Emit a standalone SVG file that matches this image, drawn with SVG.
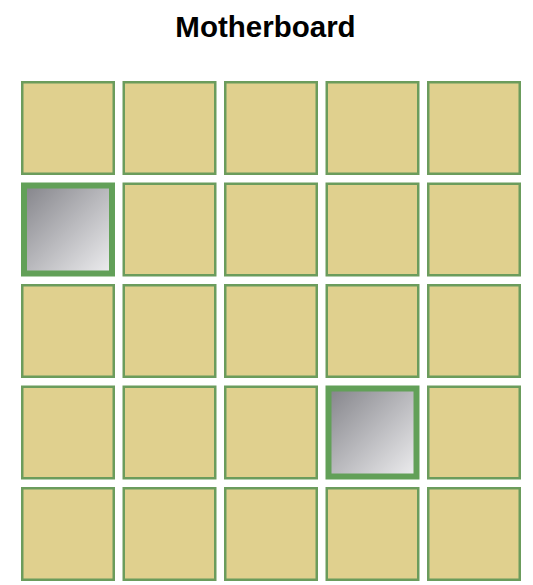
<svg xmlns="http://www.w3.org/2000/svg" width="533" height="585" viewBox="0 0 533 585">
  <style>
    .title { font-family: "Liberation Sans", Arial, sans-serif; font-weight: bold; font-size: 29.5px; fill: #000; }
    .cell { fill: #e0d08e; stroke: #6b9c5c; stroke-width: 2.5; }
    .sel { fill: url(#g); stroke: #62a058; stroke-width: 6; }
  </style>
  <defs>
    <linearGradient id="g" x1="0" y1="0" x2="1" y2="1">
      <stop offset="0" stop-color="#84848a"/>
      <stop offset="1" stop-color="#eeeef0"/>
    </linearGradient>
  </defs>
  <rect width="533" height="585" fill="#ffffff"/>
  <text class="title" x="265.5" y="37" text-anchor="middle">Motherboard</text>
  <g id="row0">
    <g id="c00"><rect class="cell" x="22.25" y="82.25" width="91.5" height="91.5"/></g>
    <g id="c01"><rect class="cell" x="123.75" y="82.25" width="91.5" height="91.5"/></g>
    <g id="c02"><rect class="cell" x="225.25" y="82.25" width="91.5" height="91.5"/></g>
    <g id="c03"><rect class="cell" x="326.75" y="82.25" width="91.5" height="91.5"/></g>
    <g id="c04"><rect class="cell" x="428.25" y="82.25" width="91.5" height="91.5"/></g>
  </g>
  <g id="row1">
    <g id="c10"><rect class="sel" x="24" y="185.5" width="88" height="88"/></g>
    <g id="c11"><rect class="cell" x="123.75" y="183.75" width="91.5" height="91.5"/></g>
    <g id="c12"><rect class="cell" x="225.25" y="183.75" width="91.5" height="91.5"/></g>
    <g id="c13"><rect class="cell" x="326.75" y="183.75" width="91.5" height="91.5"/></g>
    <g id="c14"><rect class="cell" x="428.25" y="183.75" width="91.5" height="91.5"/></g>
  </g>
  <g id="row2">
    <g id="c20"><rect class="cell" x="22.25" y="285.25" width="91.5" height="91.5"/></g>
    <g id="c21"><rect class="cell" x="123.75" y="285.25" width="91.5" height="91.5"/></g>
    <g id="c22"><rect class="cell" x="225.25" y="285.25" width="91.5" height="91.5"/></g>
    <g id="c23"><rect class="cell" x="326.75" y="285.25" width="91.5" height="91.5"/></g>
    <g id="c24"><rect class="cell" x="428.25" y="285.25" width="91.5" height="91.5"/></g>
  </g>
  <g id="row3">
    <g id="c30"><rect class="cell" x="22.25" y="386.75" width="91.5" height="91.5"/></g>
    <g id="c31"><rect class="cell" x="123.75" y="386.75" width="91.5" height="91.5"/></g>
    <g id="c32"><rect class="cell" x="225.25" y="386.75" width="91.5" height="91.5"/></g>
    <g id="c33"><rect class="sel" x="328.5" y="388.5" width="88" height="88"/></g>
    <g id="c34"><rect class="cell" x="428.25" y="386.75" width="91.5" height="91.5"/></g>
  </g>
  <g id="row4">
    <g id="c40"><rect class="cell" x="22.25" y="488.25" width="91.5" height="91.5"/></g>
    <g id="c41"><rect class="cell" x="123.75" y="488.25" width="91.5" height="91.5"/></g>
    <g id="c42"><rect class="cell" x="225.25" y="488.25" width="91.5" height="91.5"/></g>
    <g id="c43"><rect class="cell" x="326.75" y="488.25" width="91.5" height="91.5"/></g>
    <g id="c44"><rect class="cell" x="428.25" y="488.25" width="91.5" height="91.5"/></g>
  </g>
  <g id="connectors"/>
</svg>
